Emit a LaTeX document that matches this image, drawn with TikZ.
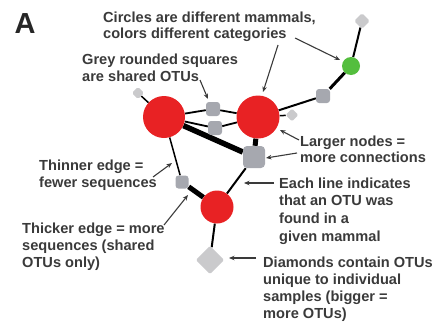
\documentclass[tikz,border=0pt]{standalone}
\usepackage{fontspec}
\setmainfont{Liberation Sans}
\usetikzlibrary{arrows.meta,backgrounds}
\definecolor{txt}{RGB}{58,58,58}
\definecolor{mred}{RGB}{232,34,36}
\definecolor{mgreen}{RGB}{84,190,62}
\definecolor{sqgrey}{RGB}{166,168,175}
\definecolor{dgrey}{RGB}{202,202,204}
\begin{document}
\begin{tikzpicture}[x=1pt,y=-1pt,
  lbl/.style={anchor=north west,inner sep=0pt,align=left,text=txt,font=\fontsize{14.6}{#1}\selectfont\bfseries},
  lbl/.default=17.3,
  mammal/.style={circle,fill=#1,draw=none,inner sep=0pt},
  otu/.style={rectangle,rounded corners=3pt,fill=sqgrey,inner sep=0pt,minimum size=#1},
  uniq/.style={rectangle,rotate=45,rounded corners=1.5pt,fill=dgrey,inner sep=0pt,minimum size=#1},
  edge/.style={draw=black,line width=#1},
  pointer/.style={draw=txt,line width=1.1pt,-{Stealth[length=5.5pt,width=4.5pt]}}]
\useasboundingbox (0,0) rectangle (435,324);

% panel letter
\node[anchor=base west,inner sep=0pt,font=\fontsize{29}{30}\selectfont\bfseries,text=black!85] (letter) at (14.5,33) {A};

% network nodes
\node[mammal=mred,minimum size=42pt] (c1) at (164,117) {};
\node[mammal=mred,minimum size=43pt] (c2) at (258,117) {};
\node[mammal=mred,minimum size=33pt] (c3) at (217,207) {};
\node[mammal=mgreen,minimum size=18pt] (g) at (351,66) {};
\node[otu=14pt] (s1) at (213,109) {};
\node[otu=14pt] (s2) at (215,128) {};
\node[otu=22pt,rounded corners=4pt] (big) at (254,157) {};
\node[otu=13pt] (ss) at (182,182) {};
\node[otu=14pt] (s3) at (323,96) {};
\node[uniq=8.5pt] (d1) at (138,93) {};
\node[uniq=9pt] (d2) at (292,115) {};
\node[uniq=11pt] (d3) at (362,21) {};
\node[uniq=20pt] (d4) at (210,260) {};

\begin{scope}[on background layer]
  \draw[edge=1.8pt] (c1) -- (s1);
  \draw[edge=1.8pt] (c1) -- (s2);
  \draw[edge=5.5pt] (c1) -- (big);
  \draw[edge=1.5pt] (c1) -- (ss);
  \draw[edge=1.5pt] (c1) -- (d1);
  \draw[edge=1.8pt] (c2) -- (s1);
  \draw[edge=1.8pt] (c2) -- (s2);
  \draw[edge=5pt] (c2) -- (big);
  \draw[edge=1.5pt] (c2) -- (d2);
  \draw[edge=2pt] (c2) -- (s3);
  \draw[edge=3pt] (s3) -- (g);
  \draw[edge=2pt] (g) -- (d3);
  \draw[edge=2pt] (big) -- (c3);
  \draw[edge=5pt] (ss) -- (c3);
  \draw[edge=2pt] (c3) -- (d4);
\end{scope}

% labels
\node[lbl=15.8] (tcirc) at (103,12) {Circles are different mammals,\\colors different categories};
\node[lbl=17] (tgrey) at (82,53.5) {Grey rounded squares\\are shared OTUs};
\node[lbl=16.5] (tlarge) at (300,135.5) {Larger nodes =\\more connections};
\node[lbl=17] (tthin) at (39,159.5) {Thinner edge =\\fewer sequences};
\node[lbl=17.6] (teach) at (279,177.5) {Each line indicates\\that an OTU was\\found in a\\given mammal};
\node[lbl=17] (tthick) at (22,222.5) {Thicker edge = more\\sequences (shared\\OTUs only)};
\node[lbl=17.2] (tdiam) at (263,256.5) {Diamonds contain OTUs\\unique to individual\\samples (bigger =\\more OTUs)};

% pointer coordinates
\coordinate (p1a) at (278,45); \coordinate (p1b) at (263,92);
\coordinate (p2a) at (295,38); \coordinate (p2b) at (340,60);
\coordinate (p3a) at (200,80); \coordinate (p3b) at (208,99);
\coordinate (p4a) at (299,140); \coordinate (p4b) at (280,130);
\coordinate (p5a) at (297,153); \coordinate (p5b) at (266,158);
\coordinate (p6a) at (274,183); \coordinate (p6b) at (244,183);
\coordinate (p7a) at (153,177); \coordinate (p7b) at (172,163);
\coordinate (p8a) at (164,225); \coordinate (p8b) at (188,195);
\coordinate (p9a) at (256,258); \coordinate (p9b) at (229,258);

\draw[pointer] (p1a) -- (p1b);
\draw[pointer] (p2a) -- (p2b);
\draw[pointer] (p3a) -- (p3b);
\draw[pointer] (p4a) -- (p4b);
\draw[pointer] (p5a) -- (p5b);
\draw[pointer] (p6a) -- (p6b);
\draw[pointer] (p7a) -- (p7b);
\draw[pointer] (p8a) -- (p8b);
\draw[pointer] (p9a) -- (p9b);
\end{tikzpicture}
\end{document}
